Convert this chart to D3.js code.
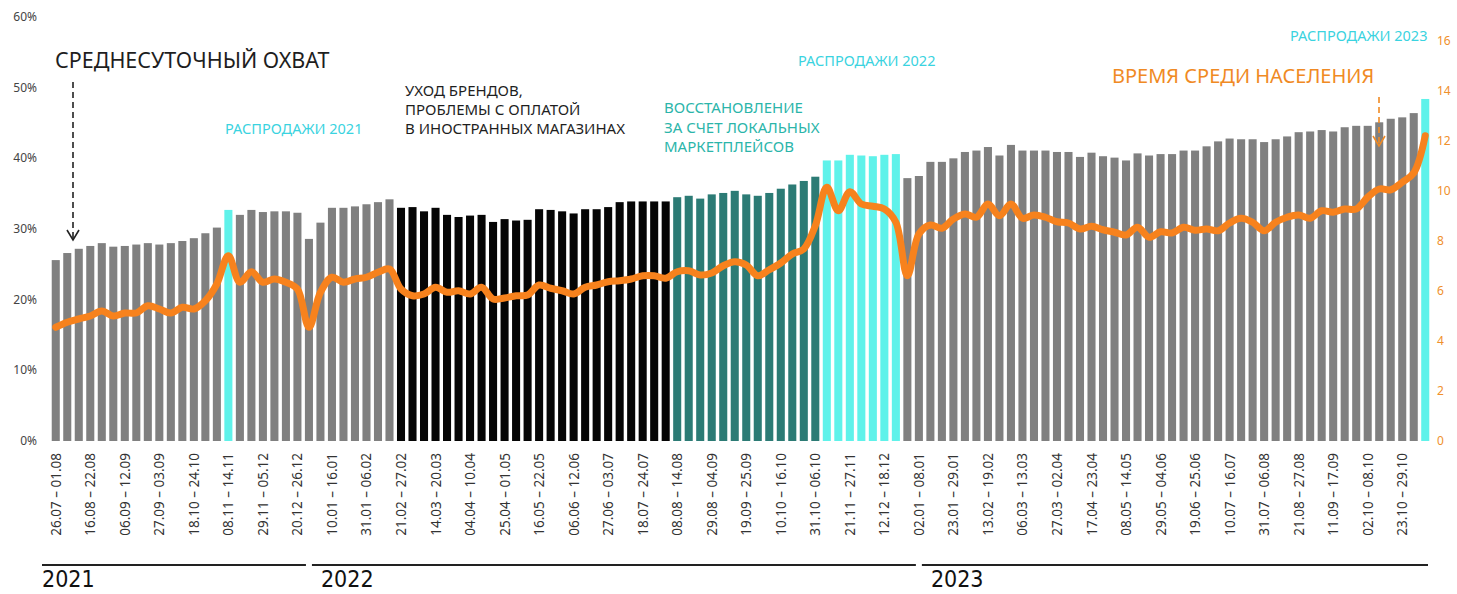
<!DOCTYPE html>
<html>
  <head>
    <meta charset="utf-8">
    <script type="text/javascript" src="https://cdn.jsdelivr.net/npm/d3@7"></script>
    <style>
      body { margin: 0; background: #fff; }
      svg { display: block; font-family: "Noto Sans", sans-serif; }
    </style>
  </head>
  <body>
    <script type="text/javascript">
    // weekly data, 26.07.2021 .. 13.11.2023
    var firstWeek = new Date(2021, 6, 26);
    var weeks = d3.timeMonday.range(firstWeek, d3.timeMonday.offset(firstWeek, 120));

    // average daily reach, %
    var reach = [
      25.6, 26.6, 27.2, 27.6, 28.0, 27.5, 27.6, 27.8, 28.0, 27.8,
      28.0, 28.3, 28.7, 29.4, 30.2, 32.7, 32.0, 32.7, 32.4, 32.5,
      32.5, 32.3, 28.6, 30.9, 33.0, 33.0, 33.2, 33.5, 33.8, 34.2,
      33.0, 33.1, 32.5, 33.0, 32.0, 31.7, 31.9, 32.0, 31.0, 31.4,
      31.2, 31.3, 32.8, 32.7, 32.5, 32.2, 32.8, 32.8, 33.1, 33.8,
      33.9, 33.9, 33.9, 33.9, 34.5, 34.7, 34.3, 34.9, 35.1, 35.4,
      34.9, 34.7, 35.1, 35.7, 36.3, 36.8, 37.4, 39.7, 39.7, 40.5,
      40.4, 40.3, 40.5, 40.6, 37.2, 37.5, 39.5, 39.5, 40.0, 40.9,
      41.1, 41.6, 40.4, 41.9, 41.1, 41.1, 41.1, 40.9, 40.9, 40.2,
      40.8, 40.3, 40.1, 39.7, 40.7, 40.4, 40.6, 40.6, 41.1, 41.1,
      41.7, 42.4, 42.8, 42.7, 42.7, 42.3, 42.7, 43.1, 43.7, 43.8,
      44.0, 43.8, 44.4, 44.6, 44.6, 45.1, 45.6, 45.8, 46.4, 48.4
    ];

    // time among population (right axis)
    var timeSpent = [
      4.55, 4.75, 4.88, 5.00, 5.20, 5.00, 5.12, 5.12, 5.41, 5.28,
      5.12, 5.35, 5.28, 5.61, 6.28, 7.41, 6.35, 6.77, 6.35, 6.48,
      6.35, 6.08, 4.55, 5.95, 6.55, 6.35, 6.48, 6.55, 6.75, 6.88,
      6.08, 5.81, 5.88, 6.15, 5.95, 6.01, 5.88, 6.15, 5.68, 5.72,
      5.81, 5.84, 6.24, 6.11, 6.01, 5.88, 6.15, 6.24, 6.37, 6.41,
      6.48, 6.61, 6.61, 6.51, 6.77, 6.81, 6.64, 6.72, 7.01, 7.17,
      7.04, 6.61, 6.85, 7.12, 7.48, 7.68, 8.61, 10.15, 9.21, 9.97,
      9.48, 9.39, 9.28, 8.75, 6.61, 8.28, 8.64, 8.51, 8.88, 9.08,
      8.95, 9.48, 9.01, 9.48, 8.91, 9.04, 8.95, 8.77, 8.72, 8.48,
      8.59, 8.45, 8.35, 8.24, 8.55, 8.15, 8.37, 8.32, 8.55, 8.43,
      8.48, 8.41, 8.72, 8.91, 8.75, 8.41, 8.75, 8.95, 9.04, 8.91,
      9.21, 9.15, 9.28, 9.28, 9.75, 10.08, 10.05, 10.35, 10.72, 12.21
    ];

    // period of each bar: index where it starts and its kind
    var periodStart = [0, 15, 16, 30, 54, 67, 74, 119];
    var periodKind = ["base", "sale", "base", "exit", "recovery", "sale", "base", "sale"];

    // every third week is labelled
    var tickLabels = [
      "26.07 – 01.08", "16.08 – 22.08", "06.09 – 12.09", "27.09 – 03.09",
      "18.10 – 24.10", "08.11 – 14.11", "29.11 – 05.12", "20.12 – 26.12",
      "10.01 – 16.01", "31.01 – 06.02", "21.02 – 27.02", "14.03 – 20.03",
      "04.04 – 10.04", "25.04 – 01.05", "16.05 – 22.05", "06.06 – 12.06",
      "27.06 – 03.07", "18.07 – 24.07", "08.08 – 14.08", "29.08 – 04.09",
      "19.09 – 25.09", "10.10 – 16.10", "31.10 – 06.10", "21.11 – 27.11",
      "12.12 – 18.12", "02.01 – 08.01", "23.01 – 29.01", "13.02 – 19.02",
      "06.03 – 13.03", "27.03 – 02.04", "17.04 – 23.04", "08.05 – 14.05",
      "29.05 – 04.06", "19.06 – 25.06", "10.07 – 16.07", "31.07 – 06.08",
      "21.08 – 27.08", "11.09 – 17.09", "02.10 – 08.10", "23.10 – 29.10"
    ];

    var years = ["2021", "2022", "2023"];
    var yearBreaks = [22, 75];   // bar index where the year underline is split

    var leftTicks = [0, 10, 20, 30, 40, 50, 60];
    var rightTicks = [0, 2, 4, 6, 8, 10, 12, 14, 16];

    var colors = {
      base: "#808080", sale: "#5ff2ea", exit: "#050505", recovery: "#2c7b75"
    };
    var orange = "#f7821d";

    var W = 1457, H = 594;
    var svg = d3.select("body").append("svg").attr("width", W).attr("height", H);

    var x = d3.scaleBand()
        .domain(d3.range(weeks.length))
        .range([50, 1431])
        .paddingInner(0.3)
        .paddingOuter(0.15);
    var yL = d3.scaleLinear().domain([0, 60]).range([441, 17]);
    var yR = d3.scaleLinear().domain([0, 16]).range([441, 41]);
    var cx = function(i) { return x(i) + x.bandwidth() / 2; };

    function kindOf(i) {
        var k = periodKind[0];
        for (var j = 0; j < periodStart.length; j++) {
            if (i >= periodStart[j]) { k = periodKind[j]; }
        }
        return k;
    }

    // left axis
    svg.append("g").selectAll("text")
        .data(leftTicks).enter().append("text")
        .attr("x", 37).attr("y", function(d) { return yL(d) + 4; })
        .attr("text-anchor", "end")
        .style("font-size", "12px").style("fill", "#444")
        .text(function(d) { return d + "%"; });

    // right axis
    svg.append("g").selectAll("text")
        .data(rightTicks).enter().append("text")
        .attr("x", 1437).attr("y", function(d) { return yR(d) + 4; })
        .style("font-size", "12px").style("fill", "#f0902c")
        .text(function(d) { return d; });

    // bars
    svg.append("g").selectAll("rect")
        .data(reach).enter().append("rect")
        .attr("x", function(d, i) { return x(i); })
        .attr("y", function(d) { return yL(d); })
        .attr("width", x.bandwidth())
        .attr("height", function(d) { return yL(0) - yL(d); })
        .style("fill", function(d, i) { return colors[kindOf(i)]; });

    // line
    var line = d3.line()
        .x(function(d, i) { return cx(i); })
        .y(function(d) { return yR(d); })
        .curve(d3.curveCatmullRom.alpha(0.5));
    svg.append("path")
        .datum(timeSpent)
        .attr("d", line)
        .style("fill", "none")
        .style("stroke", orange)
        .style("stroke-width", 7)
        .style("stroke-linejoin", "round")
        .style("stroke-linecap", "round");

    // x tick labels
    svg.append("g").selectAll("text")
        .data(tickLabels).enter().append("text")
        .attr("transform", function(d, i) {
            return "translate(" + (cx(i * 3) + 5) + ",453) rotate(-90)";
        })
        .attr("text-anchor", "end")
        .style("font-size", "13.5px").style("fill", "#333")
        .text(function(d) { return d; });

    // year underline + labels
    var yearFrom = [42, cx(yearBreaks[0]) + 3, cx(yearBreaks[1]) + 3];
    var yearTo = [cx(yearBreaks[0]) - 3, cx(yearBreaks[1]) - 3, 1428];
    var yearText = [42, cx(yearBreaks[0]) + 12, cx(yearBreaks[1]) + 12];
    years.forEach(function(yr, i) {
        svg.append("line")
            .attr("x1", yearFrom[i]).attr("x2", yearTo[i])
            .attr("y1", 565).attr("y2", 565)
            .style("stroke", "#222").style("stroke-width", 2);
        svg.append("text")
            .attr("x", yearText[i]).attr("y", 587)
            .style("font-family", "'DejaVu Sans Condensed', 'DejaVu Sans', sans-serif")
            .style("font-size", "23px").style("fill", "#111")
            .text(yr);
    });

    // annotations
    function label(txt, xp, yp, size, color) {
        svg.append("text").attr("x", xp).attr("y", yp)
            .style("font-size", size + "px").style("fill", color)
            .text(txt);
    }
    label("СРЕДНЕСУТОЧНЫЙ ОХВАТ", 55, 68, 21.5, "#1e1e1e");
    label("УХОД БРЕНДОВ,", 405, 96, 15, "#1e1e1e");
    label("ПРОБЛЕМЫ С ОПЛАТОЙ", 405, 115, 15, "#1e1e1e");
    label("В ИНОСТРАННЫХ МАГАЗИНАХ", 405, 134, 15, "#1e1e1e");
    label("РАСПРОДАЖИ 2021", 225, 134, 14.5, "#3ad3e0");
    label("ВОССТАНОВЛЕНИЕ", 664, 113, 15, "#2bb5aa");
    label("ЗА СЧЕТ ЛОКАЛЬНЫХ", 664, 133, 15, "#2bb5aa");
    label("МАРКЕТПЛЕЙСОВ", 664, 152, 15, "#2bb5aa");
    label("РАСПРОДАЖИ 2022", 798, 66, 14.5, "#3ad3e0");
    label("РАСПРОДАЖИ 2023", 1290, 41, 14.5, "#3ad3e0");
    label("ВРЕМЯ СРЕДИ НАСЕЛЕНИЯ", 1112, 83, 20, "#f08a24");

    // dashed arrows
    function arrow(xp, y1, y2, color) {
        svg.append("line")
            .attr("x1", xp).attr("x2", xp).attr("y1", y1).attr("y2", y2)
            .style("stroke", color).style("stroke-width", 1.6)
            .style("stroke-dasharray", "6,4");
        svg.append("path")
            .attr("d", "M" + (xp - 6) + "," + (y2 - 10) + "L" + xp + "," + y2 + "L" + (xp + 6) + "," + (y2 - 10))
            .style("fill", "none").style("stroke", color).style("stroke-width", 1.6);
    }
    arrow(73, 82, 240, "#222");
    arrow(1379, 97, 146, "#f08a24");
    </script>
  </body>
</html>
